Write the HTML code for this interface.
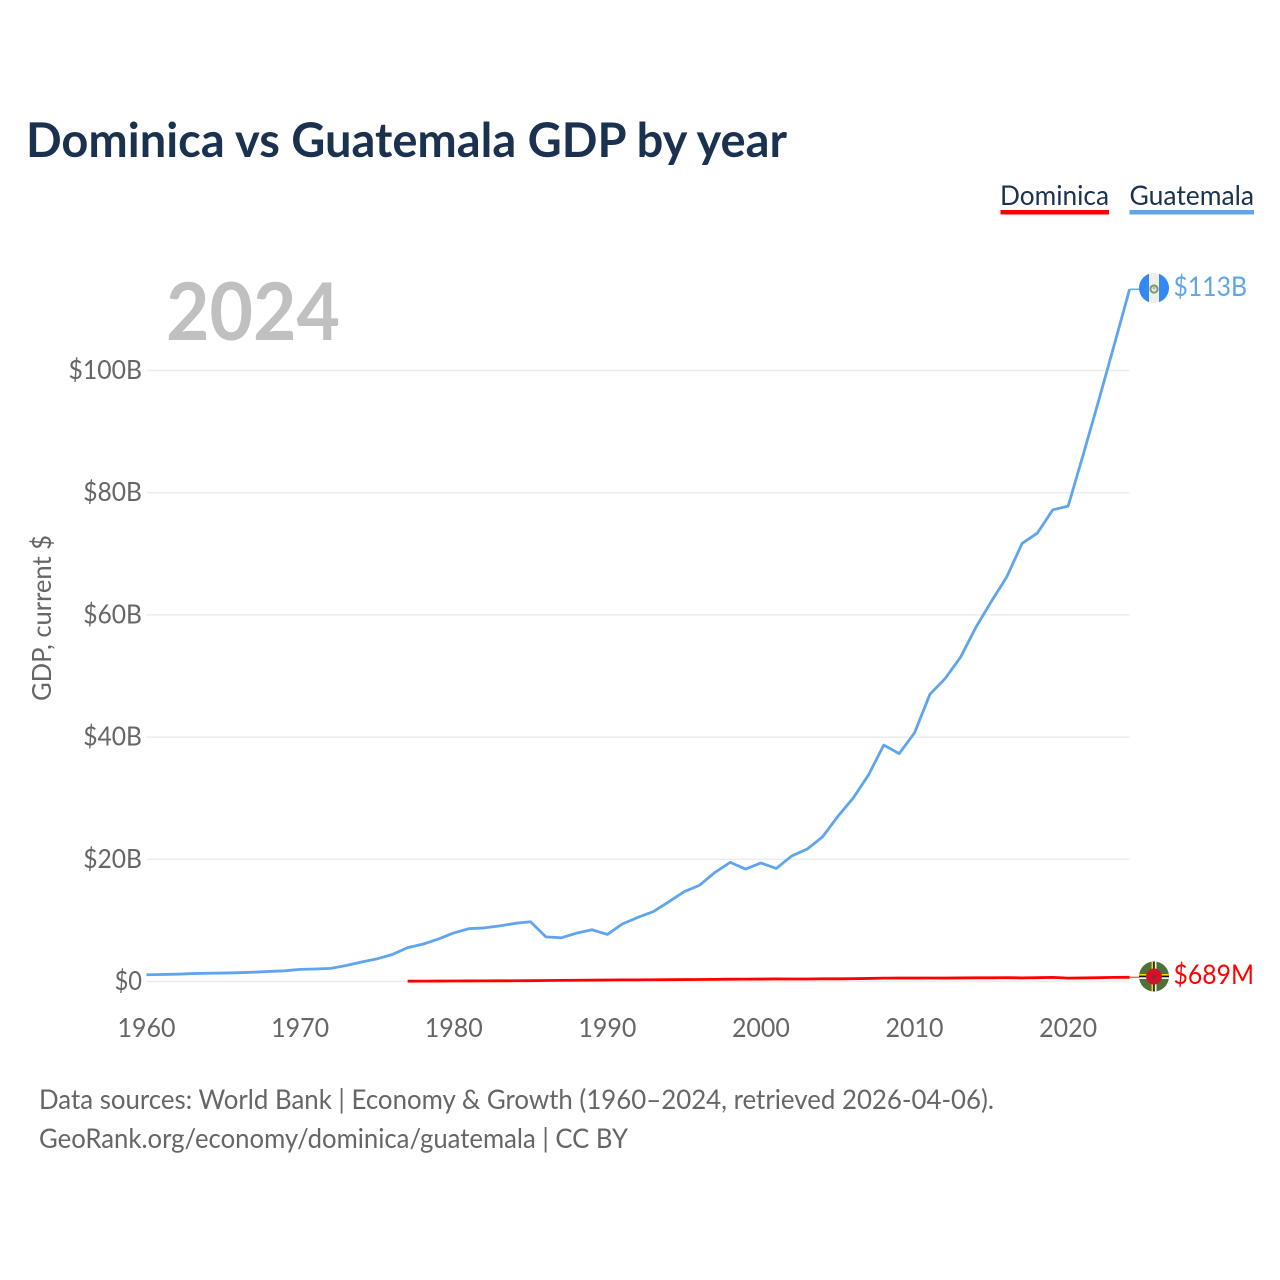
<!DOCTYPE html>
<html lang="en">
<head>
<meta charset="utf-8">
<title>Dominica vs Guatemala GDP by year</title>
<style>
html,body{margin:0;padding:0;background:#fff;}
svg{display:block;}
text{font-family:"Lato","Carlito","Liberation Sans",sans-serif;}
</style>
</head>
<body>
<svg id="chart" xmlns="http://www.w3.org/2000/svg" width="1280" height="1280" viewBox="0 0 1280 1280">
  <rect x="0" y="0" width="1280" height="1280" fill="#ffffff"/>
  <text x="26" y="157" font-size="48" font-weight="700" fill="#1a3150" textLength="761" lengthAdjust="spacingAndGlyphs">Dominica vs Guatemala GDP by year</text>

  <g>
    <text x="1000" y="205" font-size="27" fill="#1a3150" textLength="109" lengthAdjust="spacingAndGlyphs">Dominica</text>
    <rect x="1000.5" y="210" width="108.5" height="4.5" fill="#ff0000"/>
  </g>
  <g>
    <text x="1129.5" y="205" font-size="27" fill="#1a3150" textLength="124.5" lengthAdjust="spacingAndGlyphs">Guatemala</text>
    <rect x="1129.5" y="210" width="124.5" height="4.5" fill="#5fa5ec"/>
  </g>

  <text x="166" y="340" font-size="80" font-weight="700" fill="#c0c0c0" textLength="174" lengthAdjust="spacingAndGlyphs">2024</text>

  <text transform="translate(51,618) rotate(-90)" text-anchor="middle" font-size="26" fill="#666666" textLength="166" lengthAdjust="spacingAndGlyphs">GDP, current $</text>

  <g id="grid"></g>
  <g id="yticks"></g>
  <g id="xticks"></g>
  <g id="series"></g>

  <g>
    <clipPath id="clipGt"><circle cx="1154" cy="288" r="15"/></clipPath>
    <g clip-path="url(#clipGt)">
      <rect x="1139" y="273" width="30" height="30" fill="#eeeeee"/>
      <rect x="1139" y="273" width="10" height="30" fill="#3488f2"/>
      <rect x="1159" y="273" width="10" height="30" fill="#3488f2"/>
      <circle cx="1154" cy="289" r="3.6" fill="none" stroke="#7f9a63" stroke-width="2"/>
      <circle cx="1154" cy="288" r="1.6" fill="#b9b9a8"/>
    </g>
  </g>
  <text id="label-gt" x="1173.5" y="296" font-size="27" fill="#5fa5ec" textLength="73.5" lengthAdjust="spacingAndGlyphs">$113B</text>

  <g>
    <clipPath id="clipDm"><circle cx="1154" cy="976.5" r="15"/></clipPath>
    <g clip-path="url(#clipDm)">
      <rect x="1139" y="961.5" width="30" height="30" fill="#4f7036"/>
      <rect x="1151.5" y="961.5" width="1.7" height="30" fill="#f5d90a"/>
      <rect x="1153.2" y="961.5" width="1.6" height="30" fill="#111111"/>
      <rect x="1154.8" y="961.5" width="1.7" height="30" fill="#f4f4f4"/>
      <rect x="1139" y="974" width="30" height="1.7" fill="#f5d90a"/>
      <rect x="1139" y="975.7" width="30" height="1.6" fill="#111111"/>
      <rect x="1139" y="977.3" width="30" height="1.7" fill="#f4f4f4"/>
      <circle cx="1154" cy="976.5" r="8" fill="#d3112f"/>
      <circle cx="1154" cy="976.5" r="2" fill="#8a2a2a"/>
    </g>
  </g>
  <text id="label-dm" x="1173.5" y="984" font-size="27" fill="#ff0000" textLength="80.5" lengthAdjust="spacingAndGlyphs">$689M</text>

  <text x="39" y="1109" font-size="27" fill="#666666" textLength="955" lengthAdjust="spacingAndGlyphs">Data sources: World Bank | Economy &amp; Growth (1960–2024, retrieved 2026-04-06).</text>
  <text x="39" y="1148" font-size="27" fill="#666666" textLength="589" lengthAdjust="spacingAndGlyphs">GeoRank.org/economy/dominica/guatemala | CC BY</text>
</svg>
<script>
const guatemalaYears = [1960,1961,1962,1963,1964,1965,1966,1967,1968,1969,1970,1971,1972,1973,1974,1975,1976,1977,1978,1979,1980,1981,1982,1983,1984,1985,1986,1987,1988,1989,1990,1991,1992,1993,1994,1995,1996,1997,1998,1999,2000,2001,2002,2003,2004,2005,2006,2007,2008,2009,2010,2011,2012,2013,2014,2015,2016,2017,2018,2019,2020,2021,2022,2023,2024];
const guatemalaValues = [1.1,1.14,1.2,1.3,1.35,1.38,1.44,1.52,1.65,1.75,1.98,2.05,2.15,2.62,3.2,3.7,4.42,5.55,6.12,6.95,7.95,8.65,8.77,9.1,9.52,9.78,7.3,7.15,7.92,8.47,7.7,9.45,10.5,11.45,13.05,14.7,15.75,17.85,19.5,18.4,19.4,18.5,20.55,21.65,23.65,27.0,30.0,33.8,38.7,37.3,40.7,47.0,49.6,53.1,58.0,62.2,66.2,71.7,73.4,77.2,77.8,86.4,95.2,104.2,113.3];
const dominicaYears = [1977,1978,1979,1980,1981,1982,1983,1984,1985,1986,1987,1988,1989,1990,1991,1992,1993,1994,1995,1996,1997,1998,1999,2000,2001,2002,2003,2004,2005,2006,2007,2008,2009,2010,2011,2012,2013,2014,2015,2016,2017,2018,2019,2020,2021,2022,2023,2024];
const dominicaValues = [0.05,0.06,0.07,0.08,0.09,0.1,0.11,0.12,0.13,0.16,0.18,0.2,0.22,0.24,0.26,0.27,0.29,0.3,0.32,0.33,0.35,0.38,0.39,0.4,0.42,0.41,0.41,0.44,0.44,0.46,0.5,0.55,0.56,0.56,0.57,0.56,0.58,0.6,0.6,0.64,0.58,0.62,0.68,0.55,0.58,0.62,0.68,0.689];
const yTickValues = [0,20,40,60,80,100];
const yTickLabels = ["$0","$20B","$40B","$60B","$80B","$100B"];
const xTickValues = [1960,1970,1980,1990,2000,2010,2020];

const NS = "http://www.w3.org/2000/svg";
function xScale(year){ return 146.5 + (year - 1960) * (1129.6 - 146.5) / 64; }
function yScale(v){ return 981.5 - v * 6.11; }

function make(tag, attrs, parent, text){
  const el = document.createElementNS(NS, tag);
  for (const k in attrs) el.setAttribute(k, attrs[k]);
  if (text !== undefined) el.textContent = text;
  parent.appendChild(el);
  return el;
}

const grid = document.getElementById("grid");
const yticks = document.getElementById("yticks");
const xticks = document.getElementById("xticks");
const series = document.getElementById("series");

yTickValues.forEach(function(v, i){
  const line = make("line", {x1:147, x2:1129.5, y1:yScale(v), y2:yScale(v), stroke:"#ececec", "stroke-width":1.5}, grid);
  
  
  const label = make("text", {x:142, y:yScale(v)+8.5, "text-anchor":"end", "font-size":26.5, fill:"#666666", textLength: yTickLabels[i].length*14.7 - (i===0?2:0), lengthAdjust:"spacingAndGlyphs"}, yticks, yTickLabels[i]);
  
  
});

xTickValues.forEach(function(y){
  const label = make("text", {x:xScale(y), y:1037, "text-anchor":"middle", "font-size":26.5, fill:"#666666", textLength:58, lengthAdjust:"spacingAndGlyphs"}, xticks, String(y));
  
  
});

function pathFor(years, values){
  return years.map(function(y, i){
    return (i ? "L" : "M") + xScale(y).toFixed(2) + " " + yScale(values[i]).toFixed(2);
  }).join(" ");
}

const gtPath = make("path", {d:pathFor(guatemalaYears, guatemalaValues), fill:"none", stroke:"#5fa5ec", "stroke-width":2.8, "stroke-linejoin":"round"}, series);



const dmPath = make("path", {d:pathFor(dominicaYears, dominicaValues), fill:"none", stroke:"#ff0000", "stroke-width":2.8, "stroke-linejoin":"round"}, series);



const lastX = xScale(2024);
const gtEnd = yScale(guatemalaValues[guatemalaValues.length-1]);
const dmEnd = yScale(dominicaValues[dominicaValues.length-1]);
const gtLeader = make("line", {x1:lastX, x2:1140, y1:gtEnd, y2:gtEnd, stroke:"#5fa5ec", "stroke-width":1.4}, series);


const dmLeader = make("line", {x1:lastX, x2:1140, y1:dmEnd, y2:dmEnd, stroke:"#ff6060", "stroke-width":1.4}, series);


</script>
</body>
</html>
